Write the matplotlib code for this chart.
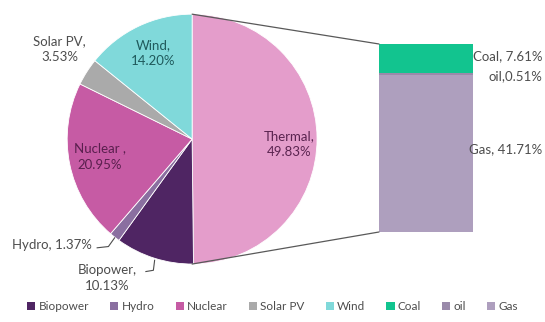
import matplotlib
matplotlib.use("Agg")
import matplotlib.pyplot as plt
from matplotlib.patches import ConnectionPatch, Patch

plt.rcParams['font.family'] = ['Lato', 'DejaVu Sans']

# Power generation mix (%)
pie_labels = ["Thermal", "Biopower", "Hydro", "Nuclear", "Solar PV", "Wind"]
pie_values = [49.83, 10.13, 1.37, 20.95, 3.53, 14.20]
pie_colors = ["#E49DCB", "#4F2563", "#8A6FA0", "#C65BA4", "#AAAAAA", "#80D9DA"]

# Breakdown of thermal generation (bottom to top)
bar_labels = ["Gas", "oil", "Coal"]
bar_values = [41.71, 0.51, 7.61]
bar_colors = ["#AE9FBE", "#9A8AAA", "#12C48F"]

legend_order = ["Biopower", "Hydro", "Nuclear", "Solar PV", "Wind", "Coal", "oil", "Gas"]

fig = plt.figure(figsize=(5.45, 3.22), dpi=100)
ax_pie = fig.add_axes([0.123, 0.180, 0.459, 0.776])
ax_bar = fig.add_axes([0.6954, 0.2795, 0.1725, 0.5839])

ax_pie.pie(pie_values, colors=pie_colors, startangle=90, counterclock=False,
           radius=1.0, wedgeprops=dict(edgecolor="white", linewidth=0.6))
ax_pie.set_xlim(-1, 1)
ax_pie.set_ylim(-1, 1)
ax_pie.set_aspect("equal")
ax_pie.axis("off")

fs = 9.5
grey = "#4D4D4D"
ax_pie.text(0.78, -0.04, "Thermal,\n49.83%", ha="center", va="center",
            fontsize=fs, color="#5A2450", linespacing=1.4)
ax_pie.text(-0.74, -0.14, "Nuclear ,\n20.95%", ha="center", va="center",
            fontsize=fs, color="#5A1F4E", linespacing=1.4)
ax_pie.text(-0.31, 0.69, "Wind,\n14.20%", ha="center", va="center",
            fontsize=fs, color="#1F5A5C", linespacing=1.4)
ax_pie.text(-1.06, 0.72, "Solar PV,\n3.53%", ha="center", va="center",
            fontsize=fs, color=grey, linespacing=1.4)
ax_pie.text(-0.80, -0.85, "Hydro, 1.37%", ha="right", va="center",
            fontsize=fs, color=grey)
ax_pie.text(-0.68, -1.11, "Biopower,\n10.13%", ha="center", va="center",
            fontsize=fs, color=grey, linespacing=1.4)

# leader lines for the small outside labels
ax_pie.plot([-0.76, -0.67, -0.62], [-0.87, -0.86, -0.79], color=grey,
            lw=0.8, clip_on=False)
ax_pie.plot([-0.37, -0.31, -0.30], [-1.06, -1.05, -0.97], color=grey,
            lw=0.8, clip_on=False)

bottom = 0.0
for lab, val, col in zip(bar_labels, bar_values, bar_colors):
    ax_bar.bar(0, val, width=1.0, bottom=bottom, color=col, edgecolor="none")
    bottom += val
total = sum(bar_values)
ax_bar.set_xlim(-0.5, 0.5)
ax_bar.set_ylim(0, total)
ax_bar.axis("off")

lx = 1.24
ax_bar.text(lx, total - bar_values[2] / 2 + 0.6, "Coal, 7.61%", ha="right",
            va="center", fontsize=fs, color=grey, clip_on=False)
ax_bar.text(lx, total - bar_values[2] - 0.9, "oil,0.51%", ha="right",
            va="center", fontsize=fs, color=grey, clip_on=False)
ax_bar.text(lx, bar_values[0] / 2 + 1.0, "Gas, 41.71%", ha="right",
            va="center", fontsize=fs, color=grey, clip_on=False)

for (xy_a, xy_b) in [((0, 1), (-0.5, total)), ((0, -1), (-0.5, 0))]:
    con = ConnectionPatch(xyA=xy_a, coordsA=ax_pie.transData,
                          xyB=xy_b, coordsB=ax_bar.transData,
                          color="#595959", lw=0.9)
    fig.add_artist(con)

color_map = dict(zip(pie_labels + bar_labels, pie_colors + bar_colors))
handles = [Patch(facecolor=color_map[n], edgecolor="none", label=n) for n in legend_order]
fig.legend(handles=handles, loc="center", bbox_to_anchor=(0.5, 0.047), ncol=8,
           frameon=False, fontsize=8.5, handlelength=0.7, handleheight=0.7,
           handletextpad=0.25, columnspacing=1.8, labelcolor=grey)

fig.savefig("out.png", dpi=100)
